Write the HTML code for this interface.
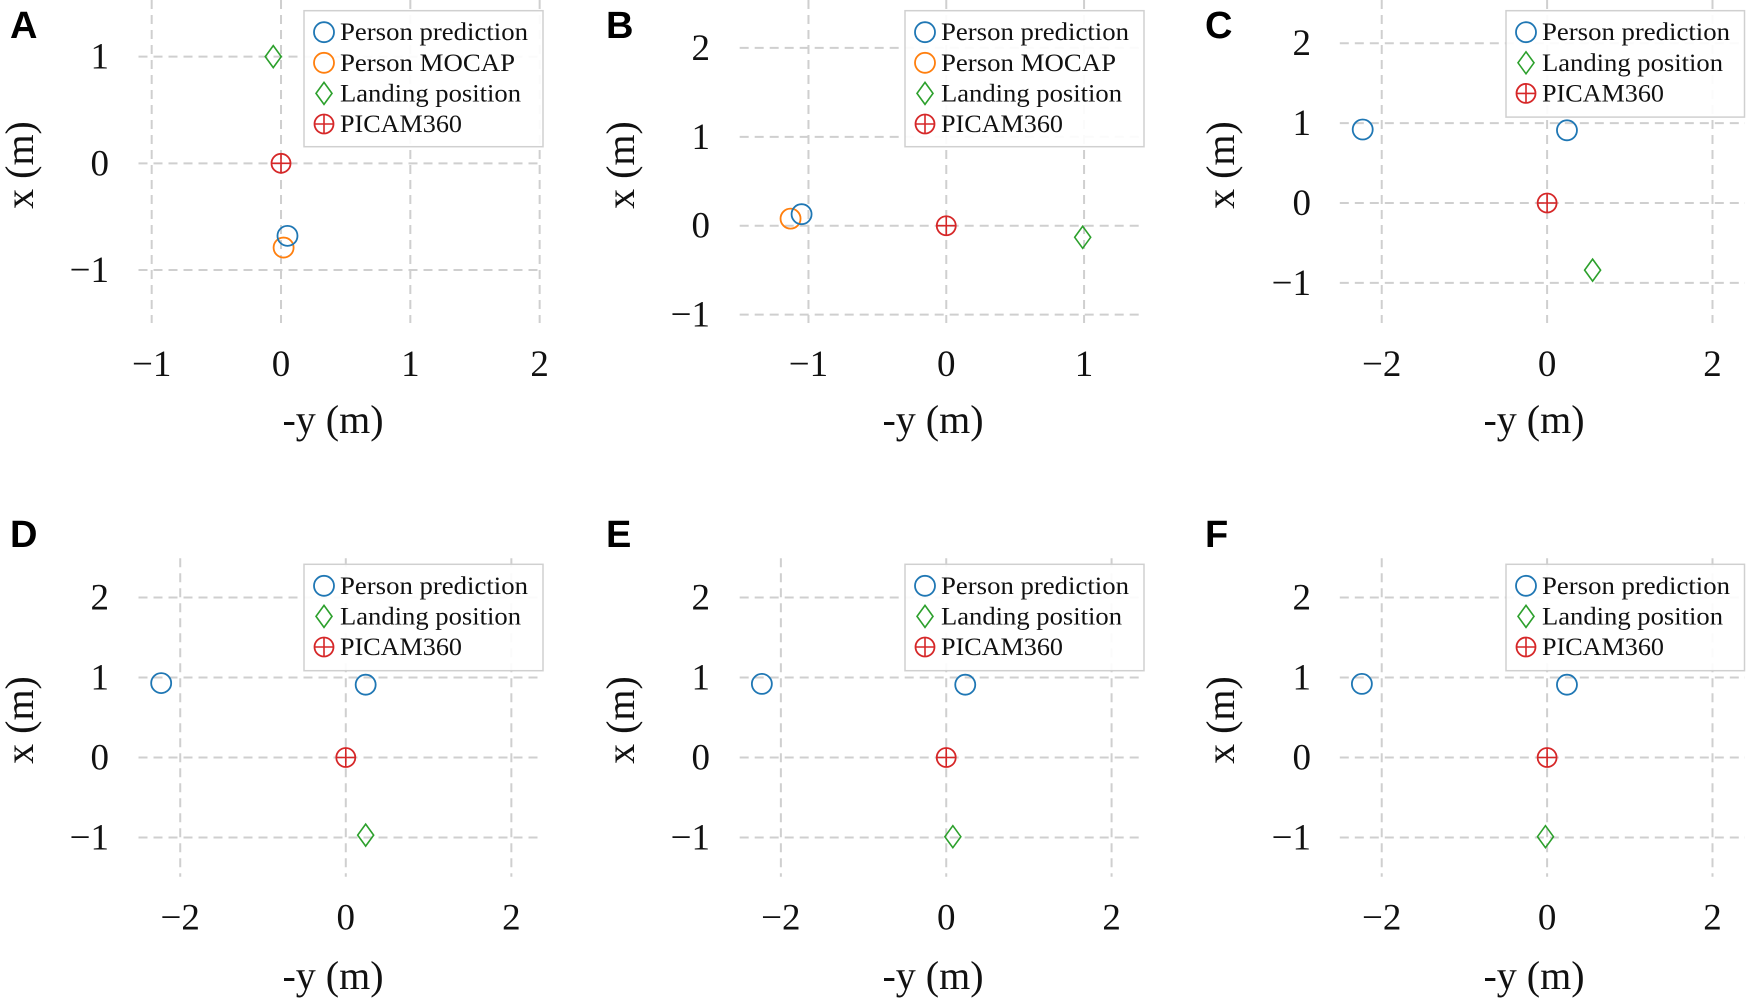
<!DOCTYPE html>
<html><head><meta charset="utf-8">
<style>
html,body{margin:0;padding:0;background:#fff;}
svg{display:block;}
</style></head>
<body>
<svg id="fig" width="1748" height="1001" viewBox="0 0 1748 1001" xmlns="http://www.w3.org/2000/svg"></svg>
<script>
// ---- data (meters) ----
const panelLetters = ["A","B","C","D","E","F"];
const predX = [[0.05],[-1.05],[-2.23,0.24],[-2.23,0.24],[-2.23,0.23],[-2.24,0.24]];
const predY = [[-0.68],[0.13],[0.92,0.91],[0.93,0.91],[0.92,0.91],[0.92,0.91]];
const mocapX = [[0.02],[-1.13],[],[],[],[]];
const mocapY = [[-0.79],[0.08],[],[],[],[]];
const landX = [-0.06,0.99,0.55,0.24,0.08,-0.02];
const landY = [1.0,-0.13,-0.84,-0.97,-0.99,-0.99];
const camX = [0,0,0,0,0,0];
const camY = [0,0,0,0,0,0];
const xTicks = [[-1,0,1,2],[-1,0,1],[-2,0,2],[-2,0,2],[-2,0,2],[-2,0,2]];
const yTicks = [[-1,0,1],[-1,0,1,2],[-1,0,1,2],[-1,0,1,2],[-1,0,1,2],[-1,0,1,2]];
const xDomains = [[-1.102,2.029],[-1.499,1.435],[-2.507,2.393],[-2.504,2.387],[-2.498,2.392],[-2.507,2.393]];
const yDomains = [[-1.497,1.531],[-1.094,2.539],[-1.502,2.541],[-1.49,2.49],[-1.49,2.49],[-1.49,2.49]];

// ---- layout ----
const NS="http://www.w3.org/2000/svg";
const svg=document.getElementById('fig');
const cols=[{l:138.5,r:543.4},{l:739.7,r:1144},{l:1339.8,r:1745}];
const rows=[{t:0,b:323},{t:558.3,b:876.7}];
const C={blue:"#1f77b4",orange:"#ff7f0e",green:"#2ca02c",red:"#d62728",grid:"#cfcfcf"};
function mk(tag,attrs,parent){const e=document.createElementNS(NS,tag);for(const k in attrs)e.setAttribute(k,attrs[k]);(parent||svg).appendChild(e);return e;}
function fmt(v){return v<0?"\u2212"+Math.abs(v):String(v);}

function drawCircle(g,x,y,col){
  return mk('circle',{cx:x,cy:y,r:10,fill:'none',stroke:col,'stroke-width':1.8},g);
}
function drawDiamond(g,x,y){
  return mk('path',{d:`M${x} ${y-11}L${x+8} ${y}L${x} ${y+11}L${x-8} ${y}Z`,fill:'none',stroke:C.green,'stroke-width':1.6},g);
}
function drawCam(g,x,y){
  const gg=mk('g',{},g);
  mk('circle',{cx:x,cy:y,r:9.5,fill:'none',stroke:C.red,'stroke-width':1.8},gg);
  mk('path',{d:`M${x-9.5} ${y}H${x+9.5}M${x} ${y-9.5}V${y+9.5}`,stroke:C.red,'stroke-width':1.6},gg);
  return gg;
}

for(let p=0;p<6;p++){
  const col=cols[p%3], row=rows[Math.floor(p/3)];
  const xd=xDomains[p], yd=yDomains[p];
  const sx=v=>col.l+(v-xd[0])/(xd[1]-xd[0])*(col.r-col.l);
  const sy=v=>row.b-(v-yd[0])/(yd[1]-yd[0])*(row.b-row.t);
  const g=mk('g',{});
  
  
  const base=p%3===0?0:(p%3===1?600:1200);
  const rowOff=p<3?0:553;
  const lt=mk('text',{x:base+(p%3===1?6:(p%3===2?5:10)),y:p<3?38:547,'font-family':'Liberation Sans, sans-serif','font-weight':'bold','font-size':38,fill:'#000'},g);
  lt.textContent=panelLetters[p];
  
  
  xTicks[p].forEach(v=>{
    const l=mk('line',{x1:sx(v),x2:sx(v),y1:row.t,y2:row.b,stroke:C.grid,'stroke-width':2,'stroke-dasharray':'9,6'},g);
    
    
    const t=mk('text',{x:sx(v),y:row.b+53,'text-anchor':'middle','font-family':'Liberation Serif, serif','font-size':37,fill:'#111'},g);
    t.textContent=fmt(v);
    
    
  });
  const labelRight={0:109,1:710,2:1311}[p%3];
  yTicks[p].forEach(v=>{
    const l=mk('line',{x1:col.l,x2:col.r,y1:sy(v),y2:sy(v),stroke:C.grid,'stroke-width':2,'stroke-dasharray':'9,6'},g);
    
    
    const t=mk('text',{x:labelRight,y:sy(v)+12,'text-anchor':'end','font-family':'Liberation Serif, serif','font-size':37,fill:'#111'},g);
    t.textContent=fmt(v);
    
    
  });
  const cx={0:333,1:933,2:1534}[p%3];
  const xt=mk('text',{x:cx,y:rowOff+(p<3?433:436),'text-anchor':'middle','font-family':'Liberation Serif, serif','font-size':40,fill:'#111'},g);
  xt.textContent='-y (m)';
  
  
  const yx={0:33,1:634,2:1234}[p%3], yy=p<3?165:720;
  const yt=mk('text',{x:yx,y:yy,'text-anchor':'middle',transform:`rotate(-90 ${yx} ${yy})`,'font-family':'Liberation Serif, serif','font-size':40,fill:'#111'},g);
  yt.textContent='x (m)';
  
  
  const cm=drawCam(g,sx(camX[p]),sy(camY[p]));
  
  
  const d=drawDiamond(g,sx(landX[p]),sy(landY[p]));
  
  
  mocapX[p].forEach((v,i)=>{const m=drawCircle(g,sx(v),sy(mocapY[p][i]),C.orange);
    
    });
  predX[p].forEach((v,i)=>{const m=drawCircle(g,sx(v),sy(predY[p][i]),C.blue);
    
    });
  const hasMocap=mocapX[p].length>0;
  const lx={0:304,1:905,2:1506}[p%3], lr={0:543,1:1144,2:1744.5}[p%3];
  const ly=p<3?10.7:564.3;
  const entries=hasMocap?["Person prediction","Person MOCAP","Landing position","PICAM360"]:["Person prediction","Landing position","PICAM360"];
  const lh=hasMocap?136:106.4;
  const lg=mk('g',{},g);
  
  
  mk('rect',{x:lx,y:ly,width:lr-lx,height:lh,fill:'#fff','fill-opacity':0.9,stroke:'#d0d0d0','stroke-width':1.5},lg);
  entries.forEach((name,i)=>{
    const ey=ly+21.5+i*30.6, mx=lx+20;
    if(name==="Person prediction") drawCircle(lg,mx,ey,C.blue);
    else if(name==="Person MOCAP") drawCircle(lg,mx,ey,C.orange);
    else if(name==="Landing position") drawDiamond(lg,mx,ey);
    else drawCam(lg,mx,ey);
    const t=mk('text',{x:lx+36,y:ey+8,'font-family':'Liberation Serif, serif','font-size':25,fill:'#111'},lg);
    t.textContent=name;
    const w={"Person prediction":188,"Person MOCAP":175,"Landing position":181,"PICAM360":122}[name];
    t.setAttribute('textLength',w);
    t.setAttribute('lengthAdjust','spacingAndGlyphs');
    
    
  });
}
</script>
</body></html>
